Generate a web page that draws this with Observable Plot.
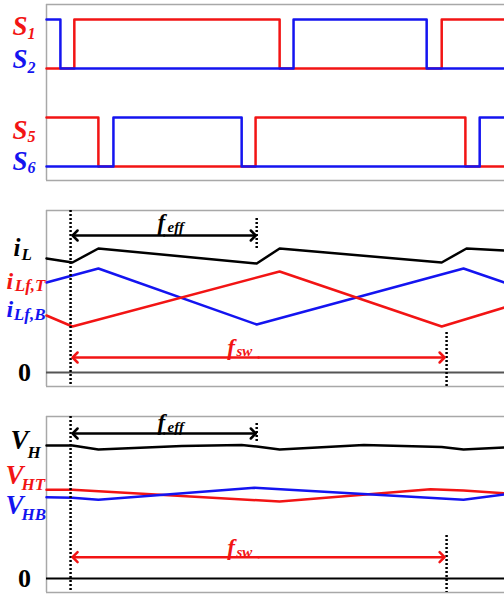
<!DOCTYPE html>
<html><head><meta charset="utf-8">
<script src="https://cdn.jsdelivr.net/npm/d3@7"></script>
<script src="https://cdn.jsdelivr.net/npm/@observablehq/plot@0.6"></script>
<style>body{margin:0;background:#fff} #c svg{display:block}</style>
</head><body><div id="c"></div><script>
// ---- switching signals (time in arbitrary units, state 0/1)
const S1_t = [0, 0.74, 6.20, 10.51, 12.18], S1_v = [0, 1, 0, 1, 1];
const S2_t = [0, 0.37, 6.57, 10.11, 12.18], S2_v = [1, 0, 1, 0, 0];
const S5_t = [0, 1.38, 5.56, 11.14, 12.18], S5_v = [1, 0, 1, 0, 0];
const S6_t = [0, 1.78, 5.19, 11.52, 12.18], S6_v = [0, 1, 0, 1, 1];
// ---- currents
const iL_t  = [0, 0.69, 1.38, 5.59, 6.20, 10.51, 11.17, 12.18];
const iL_v  = [11.4, 11.0, 12.4, 10.9, 12.4, 11.0, 12.4, 12.2];
const iB_t  = [0, 1.38, 5.59, 11.09, 12.18];
const iB_v  = [9.0, 10.4, 4.8, 10.4, 9.0];
const iT_t  = [0, 0.69, 6.20, 10.51, 12.18];
const iT_v  = [5.7, 4.6, 10.1, 4.6, 6.5];
// ---- voltages
const VH_t  = [0, 0.69, 1.38, 3.6, 5.19, 5.59, 6.20, 8.44, 10.51, 11.09, 12.18];
const VH_v  = [13.3, 13.3, 12.9, 13.25, 13.35, 13.2, 12.9, 13.35, 13.15, 12.9, 13.1];
const VHT_t = [0, 0.69, 6.20, 10.21, 11.09, 12.18];
const VHT_v = [8.87, 8.87, 7.7, 8.93, 8.8, 8.53];
const VHB_t = [0, 0.69, 1.38, 5.53, 11.09, 12.18];
const VHB_v = [8.13, 8.07, 7.87, 9.07, 7.87, 8.4];
// ---- timing marks
const tStart = 0.64, tHalf = 5.59, tPeriod = 10.64;
// ---- label texts
const switchMain = ["S", "S", "S", "S"], switchSub = ["1", "2", "5", "6"];
const curMain = ["i", "i", "i"], curSub = ["L", "Lf,T", "Lf,B"];
const voltMain = ["V", "V", "V"], voltSub = ["H", "HT", "HB"];
const zeroLabel = "0", freqMain = "f", effSub = "eff", swSub = "sw";

const RED = "#f21414", BLUE = "#1414f0", GREY = "#a8a8a8";
const FONT = "Liberation Serif, Times New Roman, serif";
const xs = {domain: [0, 12.18], axis: null};
const pts = (t, v, off = 0) => t.map((tt, i) => ({t: tt, v: v[i] + off}));

function txt(s, x, y, opts) {
  return Plot.text([s], {x: () => x, y: () => y, text: d => d, fontFamily: FONT,
    fontWeight: "bold", fontStyle: "italic", textAnchor: "start", ...opts});
}
function frame(lo, hi) {
  return [Plot.ruleY([lo, hi], {stroke: GREY, strokeWidth: 1.5}), Plot.ruleX([0], {stroke: GREY, strokeWidth: 1.5})];
}
// double-headed arrow: two half lines drawn outward from the middle
function dblArrow(a, b, y, color) {
  const m = (a + b) / 2;
  const o = {stroke: color, strokeWidth: 2.5, markerEnd: "arrow"};
  return [Plot.line([[m, y], [a, y]], o), Plot.line([[m, y], [b, y]], o)];
}
function dotted(t, opts) {
  return Plot.ruleX([t], {stroke: "black", strokeWidth: 2.5, strokeDasharray: "2,2", ...opts});
}

// ---------------- Panel 1
const p1 = Plot.plot({
  width: 504, height: 195, marginLeft: 46, marginRight: 0, marginTop: 4, marginBottom: 15,
  x: xs, y: {domain: [-0.286, 3.306], axis: null},
  marks: [
    ...frame(-0.286, 3.306),
    Plot.line(pts(S1_t, S1_v, 2), {x: "t", y: "v", curve: "step-after", stroke: RED, strokeWidth: 2.5}),
    Plot.line(pts(S5_t, S5_v), {x: "t", y: "v", curve: "step-after", stroke: RED, strokeWidth: 2.5}),
    Plot.line(pts(S2_t, S2_v, 2), {x: "t", y: "v", curve: "step-after", stroke: BLUE, strokeWidth: 2.5}),
    Plot.line(pts(S6_t, S6_v), {x: "t", y: "v", curve: "step-after", stroke: BLUE, strokeWidth: 2.5}),
    txt(switchMain[0], 0, 2.86, {dx: -34, fontSize: 27, fill: RED}),
    txt(switchSub[0], 0, 2.71, {dx: -19, fontSize: 16, fill: RED}),
    txt(switchMain[1], 0, 2.18, {dx: -34, fontSize: 27, fill: BLUE}),
    txt(switchSub[1], 0, 2.02, {dx: -19, fontSize: 16, fill: BLUE}),
    txt(switchMain[2], 0, 0.73, {dx: -34, fontSize: 27, fill: RED}),
    txt(switchSub[2], 0, 0.61, {dx: -19, fontSize: 16, fill: RED}),
    txt(switchMain[3], 0, 0.10, {dx: -34, fontSize: 27, fill: BLUE}),
    txt(switchSub[3], 0, -0.02, {dx: -19, fontSize: 16, fill: BLUE})
  ]
});

// ---------------- Panel 2
const p2 = Plot.plot({
  width: 504, height: 205, marginLeft: 46, marginRight: 0, marginTop: 15, marginBottom: 14,
  x: xs, y: {domain: [-1.4, 16.2], axis: null},
  marks: [
    ...frame(-1.4, 16.2),
    Plot.ruleY([0], {stroke: "#555", strokeWidth: 2}),
    Plot.line(pts(iL_t, iL_v), {x: "t", y: "v", stroke: "black", strokeWidth: 2.5}),
    Plot.line(pts(iB_t, iB_v), {x: "t", y: "v", stroke: BLUE, strokeWidth: 2.5}),
    Plot.line(pts(iT_t, iT_v), {x: "t", y: "v", stroke: RED, strokeWidth: 2.5}),
    dotted(tStart, {}),
    dotted(tHalf, {y1: 15.4, y2: 12.4}),
    dotted(tPeriod, {y1: 4.0, y2: -1.4}),
    ...dblArrow(0.76, 5.5, 13.7, "black"),
    ...dblArrow(0.76, 10.52, 1.5, RED),
    txt(freqMain, 2.95, 15.0, {fontSize: 23, fill: "black"}),
    txt(effSub, 3.22, 14.5, {fontSize: 15, fill: "black"}),
    txt(freqMain, 4.81, 2.5, {fontSize: 23, fill: RED}),
    txt(swSub, 5.05, 2.1, {fontSize: 15, fill: RED}),
    txt(curMain[0], 0, 12.5, {dx: -33, fontSize: 25, fill: "black"}),
    txt(curSub[0], 0, 11.8, {dx: -25, fontSize: 17, fill: "black"}),
    txt(curMain[1], 0, 9.1, {dx: -40, fontSize: 24, fill: RED}),
    txt(curSub[1], 0, 8.7, {dx: -1, fontSize: 17, fill: RED, textAnchor: "end"}),
    txt(curMain[2], 0, 6.3, {dx: -40, fontSize: 24, fill: BLUE}),
    txt(curSub[2], 0, 5.8, {dx: -1, fontSize: 17, fill: BLUE, textAnchor: "end"}),
    txt(zeroLabel, 0, 0, {dx: -22, fontSize: 26, fill: "black", fontStyle: "normal", textAnchor: "middle"})
  ]
});

// ---------------- Panel 3
const p3 = Plot.plot({
  width: 504, height: 194, marginLeft: 46, marginRight: 0, marginTop: 16, marginBottom: 2,
  x: xs, y: {domain: [-1.4, 16.2], axis: null},
  marks: [
    ...frame(-1.4, 16.2),
    Plot.ruleY([0], {stroke: "black", strokeWidth: 2}),
    Plot.line(pts(VH_t, VH_v), {x: "t", y: "v", stroke: "black", strokeWidth: 2.5}),
    Plot.line(pts(VHT_t, VHT_v), {x: "t", y: "v", stroke: RED, strokeWidth: 2.5}),
    Plot.line(pts(VHB_t, VHB_v), {x: "t", y: "v", stroke: BLUE, strokeWidth: 2.5}),
    dotted(tStart, {}),
    dotted(tHalf, {y1: 15.5, y2: 13.5}),
    dotted(tPeriod, {y1: 4.3, y2: -1.4}),
    ...dblArrow(0.76, 5.5, 14.5, "black"),
    ...dblArrow(0.76, 10.52, 2.13, RED),
    txt(freqMain, 2.95, 15.6, {fontSize: 23, fill: "black"}),
    txt(effSub, 3.22, 15.1, {fontSize: 15, fill: "black"}),
    txt(freqMain, 4.81, 3.13, {fontSize: 23, fill: RED}),
    txt(swSub, 5.05, 2.63, {fontSize: 15, fill: RED}),
    txt(voltMain[0], 0, 13.8, {dx: -36, fontSize: 27, fill: "black"}),
    txt(voltSub[0], 0, 12.6, {dx: -19, fontSize: 17, fill: "black"}),
    txt(voltMain[1], 0, 10.3, {dx: -41, fontSize: 27, fill: RED}),
    txt(voltSub[1], 0, 9.4, {dx: -25, fontSize: 17, fill: RED}),
    txt(voltMain[2], 0, 7.3, {dx: -41, fontSize: 27, fill: BLUE}),
    txt(voltSub[2], 0, 6.4, {dx: -25, fontSize: 17, fill: BLUE}),
    txt(zeroLabel, 0, 0, {dx: -22, fontSize: 26, fill: "black", fontStyle: "normal", textAnchor: "middle"})
  ]
});

document.getElementById("c").append(p1, p2, p3);
</script></body></html>
